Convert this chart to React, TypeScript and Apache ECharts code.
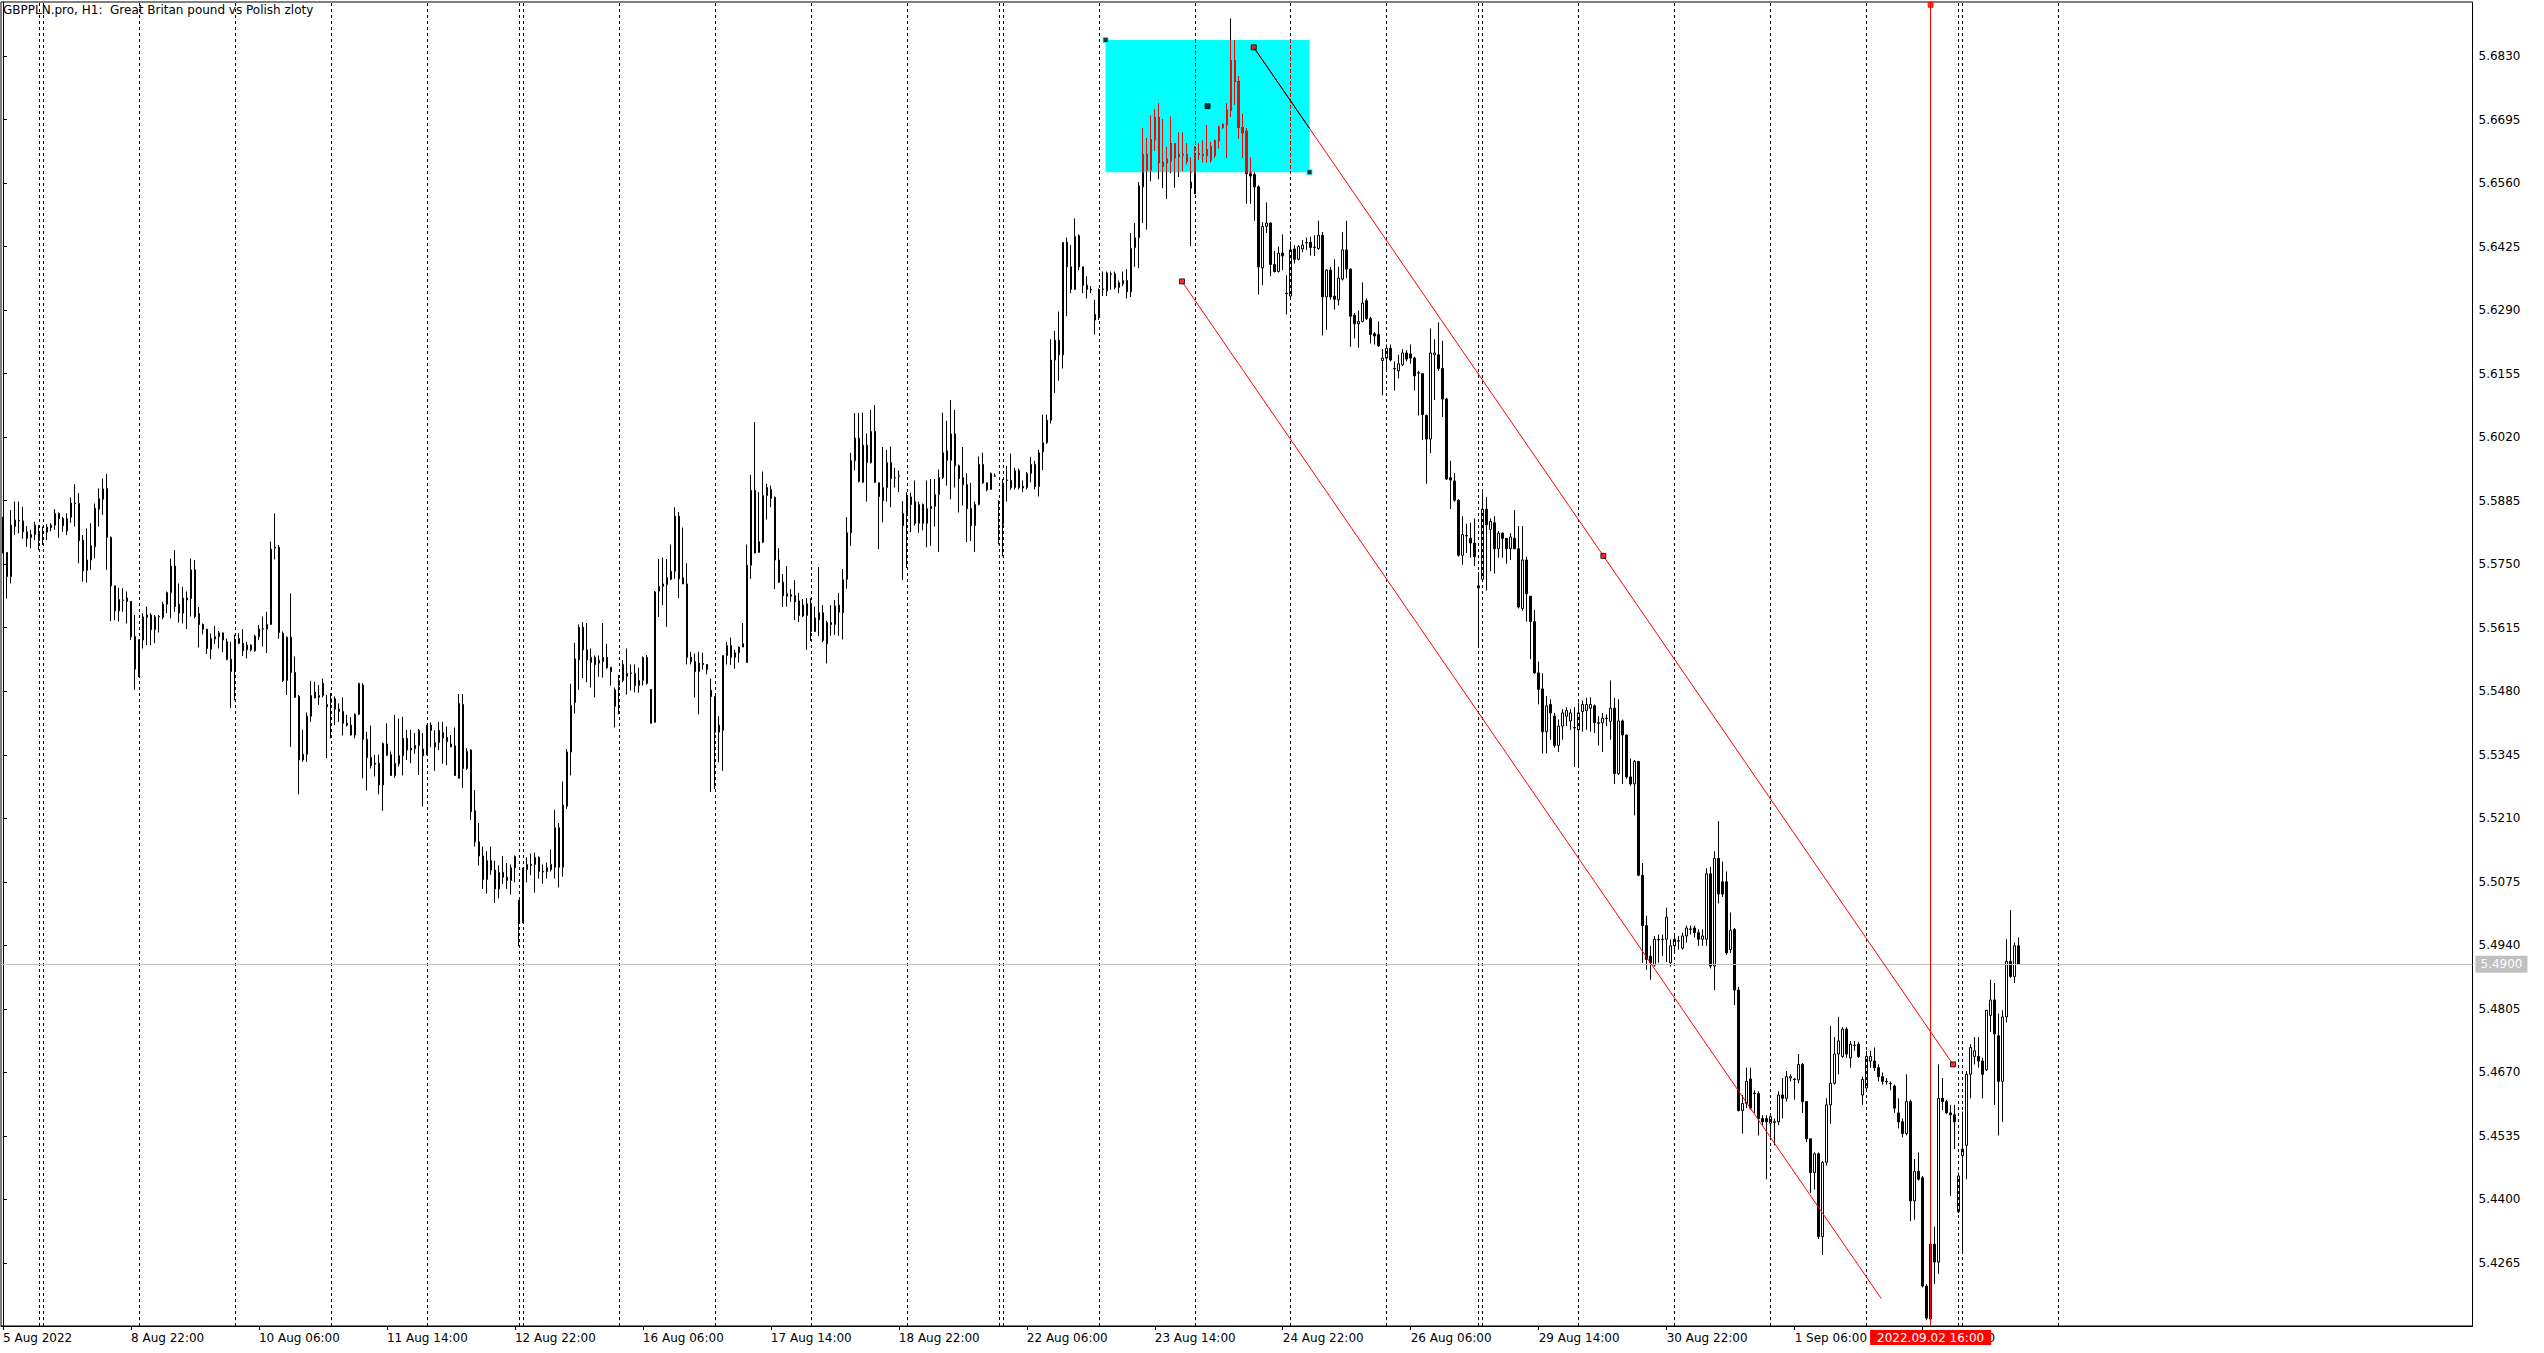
import React, { useEffect, useRef } from "react";
import * as echarts from "echarts";

const TITLE = "GBPPLN.pro, H1:  Great Britan pound vs Polish zloty";
const FONT = 'Tahoma, "DejaVu Sans", Verdana, sans-serif';
const SLOT_COUNT = 618;
const LABEL_STEP = 32;
const Y_MIN = 5.41311;
const Y_MAX = 5.69448;
const Y_TICKS = [5.4265, 5.44, 5.4535, 5.467, 5.4805, 5.494, 5.5075, 5.521, 5.5345, 5.548, 5.5615, 5.575, 5.5885, 5.602, 5.6155, 5.629, 5.6425, 5.656, 5.6695, 5.683];
const LAST_PRICE = 5.49;
const MONTHS = ["Jan", "Feb", "Mar", "Apr", "May", "Jun", "Jul", "Aug", "Sep", "Oct", "Nov", "Dec"];

// trading sessions: [year, month, day, first hour, last hour]
const SESSIONS: number[][] = [
  [2022, 8, 5, 14, 22], [2022, 8, 7, 23, 23], [2022, 8, 8, 0, 23], [2022, 8, 9, 0, 23], [2022, 8, 10, 0, 23], [2022, 8, 11, 0, 23], [2022, 8, 12, 0, 22],
  [2022, 8, 14, 23, 23], [2022, 8, 15, 0, 23], [2022, 8, 16, 0, 23], [2022, 8, 17, 0, 23], [2022, 8, 18, 0, 23], [2022, 8, 19, 0, 22],
  [2022, 8, 21, 23, 23], [2022, 8, 22, 0, 23], [2022, 8, 23, 0, 23], [2022, 8, 24, 0, 23], [2022, 8, 25, 0, 23], [2022, 8, 26, 0, 22],
  [2022, 8, 28, 23, 23], [2022, 8, 29, 0, 23], [2022, 8, 30, 0, 23], [2022, 8, 31, 0, 23], [2022, 9, 1, 0, 23], [2022, 9, 2, 0, 22],
  [2022, 9, 4, 23, 23], [2022, 9, 5, 0, 14],
];
const FUTURE_SEPARATOR_HOURS = 24; // next day separator after last session start

// prices in 1/10000
const OPEN = [
  55840,55775,55724,55830,55843,55842,55819,55807,55813,55800,
  55816,55818,55828,55833,55858,55847,55821,55850,55880,55879,
  55801,55737,55759,55787,55867,55888,55911,55807,55704,55651,
  55673,55678,55671,55596,55515,55589,55637,55642,55611,55638,
  55637,55665,55690,55746,55665,55646,55678,55677,55738,55645,
  55622,55612,55569,55591,55596,55604,55585,55548,55522,55592,
  55582,55568,55578,55566,55596,55612,55612,55622,55784,55786,
  55603,55503,55595,55520,55469,55334,55346,55427,55478,55467,
  55471,55447,55456,55464,55442,55437,55412,55408,55387,55431,
  55493,55378,55339,55327,55327,55281,55368,55345,55301,55326,
  55343,55380,55359,55358,55365,55357,55346,55408,55362,55371,
  55392,55382,55368,55364,55295,55452,55316,55355,55226,55160,
  55130,55080,55120,55100,55060,55095,55085,55078,55105,55036,
  54991,55101,55112,55112,55127,55097,55097,55101,55106,55190,
  55106,55236,55351,55456,55547,55616,55568,55541,55552,55540,
  55543,55552,55531,55448,55492,55503,55512,55518,55518,55492,
  55503,55552,55484,55414,55693,55703,55707,55718,55735,55852,
  55721,55708,55552,55543,55522,55539,55537,55482,55469,55393,
  55397,55556,55577,55552,55562,55574,55541,55748,55907,55775,
  55797,55896,55909,55892,55759,55712,55682,55685,55683,55672,
  55640,55641,55666,55607,55632,55647,55581,55626,55622,55648,
  55647,55718,55817,55970,56018,55924,56003,55966,56032,55923,
  55885,55913,55966,55933,55937,55832,55858,55893,55883,55837,
  55877,55837,55868,55873,55898,55934,55991,55971,56027,55959,
  55934,55919,55868,55832,55877,55962,55923,55909,55938,55821,
  55835,55928,55928,55913,55949,55915,55913,55943,55962,55915,
  55989,56008,56056,56184,56226,56195,56434,56382,56334,56448,
  56382,56343,56334,56269,56276,56334,56331,56367,56367,56338,
  56346,56353,56329,56423,56444,56552,56621,56588,56652,56699,
  56604,56603,56607,56644,56621,56620,56621,56549,56537,56622,
  56619,56619,56637,56619,56650,56679,56684,56715,56820,56776,
  56678,56670,56580,56578,56552,56380,56468,56475,56387,56372,
  56411,56325,56320,56420,56398,56420,56433,56434,56423,56421,
  56449,56318,56375,56320,56312,56356,56418,56377,56279,56261,
  56266,56310,56272,56240,56238,56183,56188,56209,56166,56161,
  56174,56199,56197,56188,56156,56155,56066,56016,56195,56195,
  56166,56101,55934,55927,55886,55769,55810,55805,55795,55700,
  55718,55867,55824,55838,55783,55816,55805,55783,55805,55783,
  55656,55759,55682,55628,55519,55485,55394,55452,55427,55365,
  55406,55427,55417,55403,55398,55437,55439,55444,55449,55413,
  55413,55423,55416,55444,55305,55417,55387,55298,55283,55331,
  55089,54982,54917,54898,54953,54952,54953,54903,54939,54950,
  54934,54960,54975,54977,54967,54953,54953,55092,54896,55125,
  55075,55075,54931,54974,54845,54589,54604,54656,54626,54625,
  54572,54572,54562,54565,54565,54622,54615,54658,54656,54654,
  54687,54608,54529,54457,54497,54321,54479,54601,54647,54709,
  54704,54762,54701,54728,54730,54622,54637,54694,54694,54680,
  54661,54651,54647,54641,54584,54565,54540,54608,54397,54460,
  54446,54216,54146,54305,54267,54615,54608,54584,54580,54374,
  54493,54515,54666,54704,54704,54694,54676,54791,54824,54748,
  54651,54788,54906,54874,54939,
];
const HIGH = [
  55851,55775,55865,55883,55883,55872,55831,55823,55840,55833,
  55830,55835,55837,55867,55860,55851,55858,55892,55920,55901,
  55812,55826,55837,55879,55911,55932,55942,55809,55704,55700,
  55699,55692,55671,55642,55590,55646,55660,55646,55642,55642,
  55670,55692,55762,55780,55709,55702,55692,55762,55759,55659,
  55624,55612,55603,55619,55608,55605,55592,55585,55600,55603,
  55612,55585,55580,55600,55621,55639,55649,55798,55858,55791,
  55607,55596,55688,55554,55472,55398,55435,55502,55500,55493,
  55507,55472,55476,55469,55454,55467,55430,55425,55433,55497,
  55497,55394,55407,55345,55345,55371,55412,55352,55430,55422,
  55426,55398,55398,55391,55400,55391,55408,55414,55397,55415,
  55415,55405,55387,55403,55474,55474,55359,55357,55270,55200,
  55150,55140,55150,55120,55110,55130,55115,55112,55131,55036,
  55105,55127,55135,55137,55129,55112,55116,55144,55228,55200,
  55288,55357,55496,55583,55622,55627,55625,55571,55556,55556,
  55625,55581,55531,55488,55515,55546,55571,55537,55537,55530,
  55554,55557,55484,55693,55761,55764,55761,55792,55871,55861,
  55828,55752,55564,55560,55564,55562,55537,55507,55469,55427,
  55556,55585,55594,55568,55575,55625,55792,55940,56052,55903,
  55947,55921,55917,55894,55784,55729,55746,55697,55716,55689,
  55676,55678,55678,55660,55744,55663,55630,55663,55674,55689,
  55740,55850,55987,56071,56071,56072,56028,56078,56088,55923,
  55999,55993,56000,55955,55949,55884,55903,55902,55928,55883,
  55879,55928,55931,55931,55951,56072,56055,56099,56078,55962,
  55999,55943,55923,55883,55979,55987,55924,55945,55943,55886,
  55931,55959,55985,55955,55953,55928,55946,55978,55970,55993,
  56068,56068,56228,56246,56287,56434,56444,56428,56485,56451,
  56382,56362,56341,56312,56336,56372,56372,56372,56372,56353,
  56372,56377,56454,56475,56562,56676,56655,56703,56717,56729,
  56696,56637,56701,56645,56667,56667,56645,56614,56638,56645,
  56650,56683,56647,56652,56681,56686,56729,56910,56864,56787,
  56707,56676,56614,56583,56555,56477,56519,56477,56416,56425,
  56451,56364,56436,56428,56428,56439,56444,56446,56449,56480,
  56456,56377,56382,56398,56382,56456,56480,56379,56284,56289,
  56349,56315,56276,56243,56266,56207,56217,56217,56181,56195,
  56207,56205,56217,56191,56161,56155,56068,56251,56228,56264,
  56225,56104,55970,55944,55888,55852,55836,55838,55847,55733,
  55903,55893,55847,55852,55821,55818,55805,55816,55865,55831,
  55831,55766,55682,55653,55543,55518,55470,55463,55434,55420,
  55442,55446,55442,55446,55456,55460,55466,55467,55452,55427,
  55434,55431,55503,55466,55463,55420,55388,55337,55334,55331,
  55115,55003,54939,54960,54963,54963,55020,54953,54960,54960,
  54967,54982,54982,54982,54974,54974,55104,55107,55140,55204,
  55118,55097,55010,54977,54852,54622,54680,54680,54632,54630,
  54579,54579,54582,54572,54630,54658,54673,54666,54658,54709,
  54690,54608,54529,54500,54500,54482,54615,54769,54745,54788,
  54766,54766,54737,54737,54735,54661,54716,54716,54723,54687,
  54670,54658,54651,54644,54615,54572,54666,54612,54486,54500,
  54450,54220,54318,54342,54687,54658,54612,54601,54601,54457,
  54587,54673,54730,54745,54745,54701,54802,54867,54860,54795,
  54802,54953,55015,54946,54957,
];
const LOW = [
  55773,55677,55709,55812,55816,55804,55787,55784,55801,55780,
  55791,55801,55820,55823,55806,55819,55812,55838,55830,55752,
  55713,55711,55738,55762,55830,55855,55738,55629,55631,55628,
  55649,55624,55589,55483,55510,55571,55578,55578,55582,55605,
  55633,55646,55635,55649,55626,55624,55612,55639,55635,55573,
  55601,55559,55548,55580,55571,55563,55546,55444,55461,55580,
  55555,55550,55565,55564,55589,55575,55561,55621,55760,55592,
  55500,55472,55362,55467,55261,55330,55330,55415,55465,55451,
  55467,55338,55380,55408,55415,55386,55405,55386,55380,55429,
  55295,55269,55316,55299,55261,55226,55343,55300,55296,55320,
  55301,55334,55327,55347,55302,55235,55344,55361,55311,55355,
  55326,55323,55361,55301,55294,55274,55313,55206,55150,55110,
  55060,55050,55090,55030,55040,55070,55060,55048,55074,54938,
  54987,55074,55089,55052,55082,55071,55082,55097,55082,55063,
  55086,55230,55301,55433,55483,55508,55499,55488,55467,55511,
  55509,55528,55492,55403,55431,55499,55473,55482,55478,55477,
  55492,55494,55412,55414,55638,55663,55617,55716,55719,55678,
  55708,55537,55537,55467,55431,55526,55516,55266,55272,55329,
  55311,55537,55536,55528,55541,55574,55541,55719,55773,55775,
  55795,55845,55871,55697,55710,55659,55660,55670,55631,55627,
  55638,55568,55587,55606,55597,55584,55539,55598,55600,55598,
  55590,55698,55789,55949,55924,55923,55883,55964,55923,55782,
  55839,55883,55871,55913,55903,55716,55742,55818,55832,55817,
  55822,55786,55789,55830,55776,55931,55917,55888,55913,55860,
  55875,55797,55799,55776,55875,55921,55905,55908,55936,55792,
  55767,55883,55908,55909,55909,55903,55909,55924,55909,55894,
  55950,56006,56049,56114,56140,56166,56277,56326,56333,56375,
  56326,56315,56326,56238,56269,56320,56320,56333,56334,56326,
  56341,56315,56318,56382,56379,56475,56461,56564,56629,56568,
  56549,56526,56581,56550,56573,56586,56600,56426,56537,56609,
  56604,56604,56604,56614,56634,56676,56614,56701,56727,56655,
  56614,56516,56516,56480,56323,56343,56454,56362,56370,56370,
  56375,56281,56315,56389,56396,56413,56418,56406,56405,56418,
  56236,56248,56312,56291,56300,56353,56358,56212,56230,56210,
  56264,56269,56219,56217,56212,56109,56161,56181,56119,56145,
  56171,56181,56176,56119,56066,56014,55921,55986,56099,56161,
  56063,55929,55867,55883,55766,55749,55774,55764,55746,55577,
  55715,55694,55735,55730,55764,55764,55751,55759,55782,55656,
  55651,55628,55548,55517,55452,55348,55348,55377,55360,55351,
  55377,55406,55398,55319,55322,55394,55398,55394,55391,55365,
  55351,55406,55377,55283,55302,55283,55294,55279,55216,55087,
  54903,54888,54867,54895,54903,54917,54905,54895,54924,54931,
  54931,54946,54963,54957,54939,54939,54939,54891,54845,55029,
  55043,54920,54924,54813,54587,54540,54594,54591,54584,54536,
  54558,54443,54532,54515,54558,54572,54608,54651,54612,54647,
  54584,54522,54414,54421,54316,54282,54472,54561,54644,54666,
  54701,54701,54680,54716,54701,54601,54632,54680,54673,54651,
  54644,54644,54632,54584,54551,54532,54536,54354,54357,54440,
  54213,54144,54136,54220,54242,54590,54582,54407,54507,54371,
  54285,54443,54615,54687,54680,54615,54673,54756,54601,54536,
  54565,54776,54871,54860,54900,
];
const CLOSE = [
  55775,55724,55833,55844,55842,55819,55805,55813,55833,55816,
  55819,55829,55833,55858,55847,55832,55847,55880,55879,55800,
  55736,55759,55789,55869,55889,55910,55807,55704,55651,55675,
  55674,55671,55596,55527,55589,55638,55642,55611,55638,55639,
  55665,55690,55746,55660,55646,55678,55674,55738,55639,55622,
  55612,55571,55592,55596,55604,55589,55548,55522,55589,55582,
  55566,55578,55568,55597,55612,55613,55622,55782,55786,55605,
  55503,55595,55520,55467,55334,55346,55427,55471,55466,55471,
  55497,55452,55464,55442,55437,55412,55408,55387,55431,55497,
  55378,55339,55322,55325,55281,55369,55344,55301,55327,55343,
  55380,55355,55355,55365,55397,55343,55408,55397,55371,55397,
  55381,55373,55362,55301,55454,55316,55352,55224,55160,55130,
  55080,55120,55100,55060,55095,55085,55078,55105,55129,54987,
  55101,55112,55110,55127,55097,55096,55105,55112,55190,55106,
  55238,55351,55450,55549,55616,55568,55547,55552,55537,55546,
  55552,55530,55522,55483,55503,55537,55518,55519,55492,55503,
  55552,55497,55412,55691,55703,55708,55722,55735,55852,55719,
  55708,55552,55543,55522,55540,55537,55526,55469,55393,55408,
  55556,55577,55552,55562,55574,55581,55748,55907,55774,55798,
  55896,55913,55890,55759,55712,55683,55688,55682,55670,55641,
  55663,55666,55607,55636,55647,55588,55626,55622,55661,55663,
  55717,55817,55970,56018,55926,56003,55966,56032,55924,55894,
  55913,55966,55932,55934,55938,55858,55893,55877,55837,55877,
  55837,55868,55873,55898,55934,55987,55971,56027,55959,55932,
  55919,55868,55832,55877,55962,55923,55908,55943,55937,55820,
  55922,55929,55913,55949,55913,55912,55943,55962,55915,55987,
  56008,56056,56184,56226,56195,56434,56382,56334,56446,56382,
  56343,56334,56333,56281,56334,56335,56369,56366,56338,56348,
  56353,56329,56421,56444,56554,56621,56588,56652,56699,56604,
  56596,56611,56644,56614,56616,56621,56606,56562,56622,56621,
  56621,56631,56609,56650,56679,56684,56715,56820,56776,56678,
  56667,56580,56575,56552,56382,56468,56475,56387,56372,56411,
  56405,56326,56418,56398,56425,56428,56434,56423,56424,56449,
  56318,56375,56318,56313,56358,56418,56377,56277,56261,56266,
  56305,56272,56238,56235,56214,56188,56209,56184,56165,56176,
  56199,56186,56188,56150,56157,56068,56016,56199,56199,56166,
  56101,55931,55929,55886,55769,55813,55811,55795,55766,55704,
  55867,55834,55841,55783,55816,55805,55783,55808,55783,55659,
  55759,55687,55628,55519,55484,55394,55449,55434,55365,55406,
  55434,55439,55434,55402,55434,55452,55452,55452,55413,55412,
  55423,55422,55444,55305,55417,55387,55298,55283,55331,55089,
  54982,54910,54903,54953,54952,54953,55000,54939,54953,54949,
  54960,54977,54974,54967,54953,54960,55092,54896,55125,55049,
  55049,54924,54972,54845,54589,54604,54651,54594,54625,54572,
  54565,54565,54576,54564,54622,54615,54661,54661,54655,54687,
  54608,54529,54457,54497,54321,54479,54601,54647,54709,54737,
  54762,54709,54730,54727,54704,54655,54704,54704,54680,54661,
  54651,54650,54646,54594,54565,54540,54608,54397,54460,54443,
  54216,54148,54305,54267,54615,54608,54584,54580,54565,54450,
  54507,54666,54723,54716,54694,54666,54802,54824,54752,54651,
  54788,54906,54874,54939,54900,
];

// chart objects (bar index, price)
const RECT_T1 = 275.7;
const RECT_T2 = 326.7;
const RECT_TOP = 5.6864;
const RECT_BOTTOM = 5.6583;
const CHANNEL_T1 = 312.75;
const CHANNEL_P1 = 5.68485;
const CHANNEL_T2 = 487.6;
const CHANNEL_P2 = 5.4687;
const CHANNEL_T3 = 294.8;
const CHANNEL_P3 = 5.6351;
const VLINE_INDEX = 482;

const pad2 = (n: number) => (n < 10 ? "0" + n : "" + n);

const bars: { y: number; m: number; d: number; h: number }[] = [];
const sessionStarts: number[] = [];
SESSIONS.forEach(([y, m, d, h0, h1]) => {
  sessionStarts.push(bars.length);
  for (let h = h0; h <= h1; h++) bars.push({ y, m, d, h });
});
const BAR_COUNT = Math.min(bars.length, OPEN.length);
const separators = sessionStarts.slice(1).concat([sessionStarts[sessionStarts.length - 1] + FUTURE_SEPARATOR_HOURS]);

const barLabels = bars.map((b, i) =>
  i === 0 ? `${b.d} ${MONTHS[b.m - 1]} ${b.y}` : `${b.d} ${MONTHS[b.m - 1]} ${pad2(b.h)}:00`
);
const categories: string[] = [];
for (let i = 0; i < SLOT_COUNT; i++) categories.push(i < bars.length ? barLabels[i] : "slot" + i);

const vb = bars[VLINE_INDEX];
const VLINE_LABEL = `${vb.y}.${pad2(vb.m)}.${pad2(vb.d)} ${pad2(vb.h)}:00`;

export default function App() {
  const ref = useRef<HTMLDivElement>(null);
  useEffect(() => {
    if (!ref.current) return;
    const chart = echarts.init(ref.current, null, { renderer: "svg" });

    const candleData: any[] = [];
    const redData: any[] = [];
    const clamp = (v: number) => Math.max(RECT_BOTTOM, Math.min(RECT_TOP, v));
    for (let i = 0; i < BAR_COUNT; i++) {
      const o = OPEN[i] / 1e4, c = CLOSE[i] / 1e4;
      const h = Math.max(HIGH[i], OPEN[i], CLOSE[i]) / 1e4;
      const l = Math.min(LOW[i], OPEN[i], CLOSE[i]) / 1e4;
      candleData.push([o, c, l, h]);
      const inX = i >= Math.ceil(RECT_T1) && i <= Math.floor(RECT_T2);
      if (inX && h > RECT_BOTTOM && l < RECT_TOP) {
        redData.push([clamp(o), clamp(c), clamp(l), clamp(h)]);
      } else {
        redData.push(["-", "-", "-", "-"]);
      }
    }

    const upper = [[CHANNEL_T1, CHANNEL_P1], [CHANNEL_T2, CHANNEL_P2]];
    const lower = [
      [CHANNEL_T3, CHANNEL_P3],
      [CHANNEL_T3 + (CHANNEL_T2 - CHANNEL_T1), CHANNEL_P3 + (CHANNEL_P2 - CHANNEL_P1)],
    ];
    const frac = (RECT_T2 - CHANNEL_T1) / (CHANNEL_T2 - CHANNEL_T1);
    const insideSeg = [[CHANNEL_T1, CHANNEL_P1], [RECT_T2, CHANNEL_P1 + frac * (CHANNEL_P2 - CHANNEL_P1)]];
    const sepInRect = separators.filter((s) => s > RECT_T1 && s < RECT_T2);

    const labelInterval = (index: number) => index % LABEL_STEP === 0 && index < BAR_COUNT;

    const handle = (x: number, y: number, fill: string, border: string) => ({
      value: [x, y],
      itemStyle: { color: fill, borderColor: border, borderWidth: 1 },
    });

    const option: any = {
      animation: false,
      backgroundColor: "#ffffff",
      textStyle: { fontFamily: FONT },
      title: {
        text: TITLE,
        left: 3,
        top: 4,
        padding: 0,
        textStyle: { fontSize: 12, fontWeight: "normal", color: "#000", fontFamily: FONT },
      },
      grid: { left: 0.5, right: 71.5, top: 2, bottom: 27, show: true, borderColor: "#000", borderWidth: 1, backgroundColor: "transparent" },
      xAxis: [
        {
          type: "category",
          data: categories,
          boundaryGap: true,
          axisLine: { show: true, lineStyle: { color: "#000", width: 1 } },
          axisTick: { show: true, length: 4, alignWithLabel: true, interval: labelInterval, lineStyle: { color: "#000" } },
          axisLabel: {
            show: true,
            interval: labelInterval,
            formatter: (_v: string, index: number) => (index < BAR_COUNT ? barLabels[index] : ""),
            align: "left",
            margin: 6,
            fontSize: 12,
            color: "#000",
            fontFamily: FONT,
          },
          splitLine: { show: false },
        },
        { type: "value", min: -0.5, max: SLOT_COUNT - 0.5, show: false },
      ],
      yAxis: {
        type: "value",
        position: "right",
        min: Y_MIN,
        max: Y_MAX,
        scale: true,
        axisLine: { show: true, lineStyle: { color: "#000", width: 1 } },
        axisTick: { show: true, length: 4, customValues: Y_TICKS, lineStyle: { color: "#000" } },
        axisLabel: {
          customValues: Y_TICKS,
          formatter: (v: number) => v.toFixed(4),
          margin: 6,
          fontSize: 12,
          color: "#000",
          fontFamily: FONT,
        },
        splitLine: { show: false },
      },
      series: [
        {
          type: "line",
          xAxisIndex: 1,
          data: [],
          z: 1,
          silent: true,
          markLine: {
            silent: true,
            symbol: ["none", "none"],
            label: { show: false },
            lineStyle: { color: "#000", type: [3, 3], width: 1 },
            data: separators.map((s) => ({ xAxis: s })),
          },
        },
        {
          type: "line",
          xAxisIndex: 1,
          data: [],
          z: 2,
          silent: true,
          markArea: {
            silent: true,
            itemStyle: { color: "#00FFFF", opacity: 1 },
            data: [[{ coord: [RECT_T1, RECT_TOP] }, { coord: [RECT_T2, RECT_BOTTOM] }]],
          },
        },
        {
          type: "line",
          xAxisIndex: 1,
          data: [],
          z: 3,
          silent: true,
          markLine: {
            silent: true,
            symbol: ["none", "none"],
            label: { show: false },
            lineStyle: { color: "#ff0000", type: [3, 3], width: 1 },
            data: sepInRect.map((s) => [{ coord: [s, RECT_TOP] }, { coord: [s, RECT_BOTTOM] }]),
          },
        },
        {
          type: "line",
          xAxisIndex: 1,
          data: [],
          z: 3,
          silent: true,
          markLine: {
            silent: true,
            symbol: ["none", "none"],
            lineStyle: { color: "#C0C0C0", type: "solid", width: 1 },
            label: {
              show: true,
              position: "end",
              formatter: LAST_PRICE.toFixed(4),
              color: "#ffffff",
              backgroundColor: "#C0C0C0",
              padding: [3, 5, 2, 5],
              fontSize: 12,
              distance: 3,
              fontFamily: FONT,
            },
            data: [{ yAxis: LAST_PRICE }],
          },
        },
        {
          type: "candlestick",
          xAxisIndex: 0,
          yAxisIndex: 0,
          z: 4,
          barWidth: 2,
          silent: true,
          data: candleData,
          itemStyle: { color: "#ffffff", color0: "#000000", borderColor: "#000000", borderColor0: "#000000", borderColorDoji: "#000000", borderWidth: 1 },
        },
        {
          type: "candlestick",
          xAxisIndex: 0,
          yAxisIndex: 0,
          z: 5,
          barWidth: 2,
          silent: true,
          data: redData,
          itemStyle: { color: "#00FFFF", color0: "#ff0000", borderColor: "#ff0000", borderColor0: "#ff0000", borderColorDoji: "#ff0000", borderWidth: 1 },
        },
        {
          type: "line",
          xAxisIndex: 1,
          z: 6,
          silent: true,
          symbol: "none",
          data: upper,
          lineStyle: { color: "#ff0000", width: 1 },
        },
        {
          type: "line",
          xAxisIndex: 1,
          z: 6,
          silent: true,
          symbol: "none",
          data: lower,
          lineStyle: { color: "#ff0000", width: 1 },
        },
        {
          type: "line",
          xAxisIndex: 1,
          z: 7,
          silent: true,
          symbol: "none",
          data: insideSeg,
          lineStyle: { color: "#000000", width: 1 },
        },
        {
          type: "line",
          xAxisIndex: 1,
          data: [],
          z: 7,
          silent: true,
          markLine: {
            silent: true,
            symbol: ["none", "none"],
            lineStyle: { color: "#ff0000", type: "solid", width: 1 },
            label: {
              show: true,
              position: "start",
              formatter: VLINE_LABEL,
              color: "#ffffff",
              backgroundColor: "#ff0000",
              padding: [2, 7, 1, 7],
              fontSize: 12,
              distance: 4,
              fontFamily: FONT,
            },
            data: [{ xAxis: VLINE_INDEX }],
          },
        },
        {
          type: "scatter",
          xAxisIndex: 1,
          z: 8,
          silent: true,
          symbol: "rect",
          symbolSize: 5,
          data: [
            handle(RECT_T1, RECT_TOP, "#000", "#00FFFF"),
            handle(RECT_T2, RECT_BOTTOM, "#000", "#00FFFF"),
            handle((RECT_T1 + RECT_T2) / 2, (RECT_TOP + RECT_BOTTOM) / 2, "#000", "#000"),
            handle(CHANNEL_T1, CHANNEL_P1, "#ff0000", "#000"),
            handle(CHANNEL_T2, CHANNEL_P2, "#ff0000", "#000"),
            handle((CHANNEL_T1 + CHANNEL_T2) / 2, (CHANNEL_P1 + CHANNEL_P2) / 2, "#ff0000", "#000"),
            handle(CHANNEL_T3, CHANNEL_P3, "#ff0000", "#000"),
            handle(VLINE_INDEX, Y_MAX - 0.0006, "#ff0000", "#ff0000"),
          ],
        },
      ],
    };
    chart.setOption(option);
    return () => chart.dispose();
  }, []);
  return <div ref={ref} style={{ position: "absolute", left: 0, top: 0, width: 2544, height: 1353 }} />;
}
